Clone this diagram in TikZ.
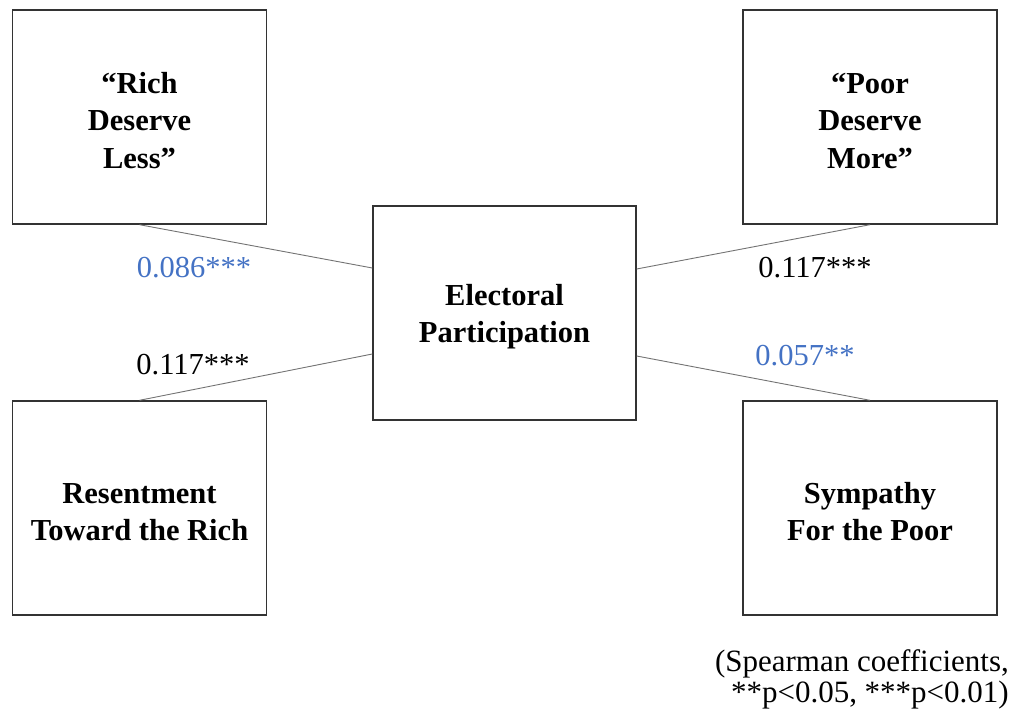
\documentclass[tikz,border=0pt]{standalone}
\usepackage{fontspec}
\setmainfont{Liberation Serif}
\usetikzlibrary{calc}
\definecolor{lblblue}{HTML}{4472C4}
\newcommand{\topstrut}{\rule{0pt}{28pt}}
\begin{document}
\begin{tikzpicture}[x=1pt,y=-1pt,
  box/.style={draw=black!80, line width=1.4pt, minimum width=254pt, minimum height=214pt,
    align=center, font=\fontsize{30.5}{37.5}\selectfont\bfseries, inner sep=0pt},
  link/.style={draw=black!55, line width=0.9pt},
  coef/.style={font=\fontsize{30.5}{36}\selectfont, inner sep=0pt},
  note/.style={font=\fontsize{31}{31}\selectfont, inner sep=0pt, align=right}
  ]
\useasboundingbox (0,0) rectangle (1015,711);
\node[box] (TL) at (139.5,117) {\topstrut“Rich\\Deserve\\Less”};
\node[box] (TR) at (870,117) {\topstrut“Poor\\Deserve\\More”};
\node[box, minimum width=263pt] (C) at (504.5,313) {\topstrut Electoral\\Participation};
\node[box] (BL) at (139.5,508) {\topstrut Resentment\\Toward the Rich};
\node[box] (BR) at (870,508) {\topstrut Sympathy\\For the Poor};

\coordinate (CWt) at ($(C.west)+(0,-45)$);
\coordinate (CWb) at ($(C.west)+(0,41)$);
\coordinate (CEt) at ($(C.east)+(0,-44)$);
\coordinate (CEb) at ($(C.east)+(0,43)$);

\draw[link] (TL.south) -- (CWt);
\draw[link] (BL.north) -- (CWb);
\draw[link] (TR.south) -- (CEt);
\draw[link] (BR.north) -- (CEb);

\node[coef, text=lblblue] (l1) at (194,268) {0.086***};
\node[coef] (l2) at (815,268) {0.117***};
\node[coef] (l3) at (193,365) {0.117***};
\node[coef, text=lblblue] (l4) at (805,356) {0.057**};

\node[note, anchor=north east] (fn) at (1009,649) {(Spearman coefficients,\\**p<0.05, ***p<0.01)};
\end{tikzpicture}
\end{document}
